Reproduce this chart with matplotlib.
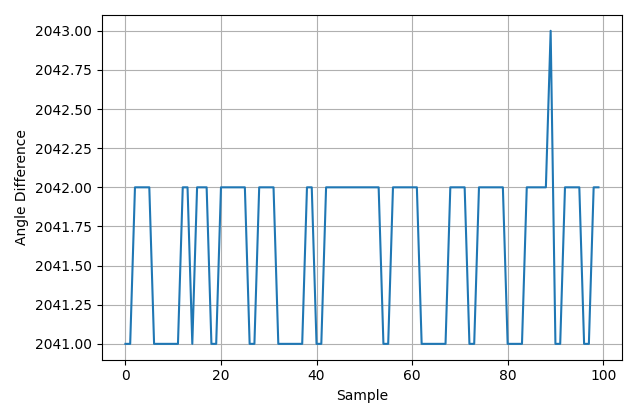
import matplotlib
matplotlib.use("Agg")
import matplotlib.pyplot as plt
import numpy as np

# Angle difference per sample (level, length)
levels = [2041, 2042, 2041, 2042, 2041, 2042, 2041, 2042, 2041, 2042, 2041, 2042,
          2041, 2042, 2041, 2042, 2041, 2042, 2041, 2042, 2041, 2042, 2043, 2041,
          2042, 2041, 2042]
counts = [2, 4, 6, 2, 1, 3, 2, 6, 2, 4, 6, 2,
          2, 12, 2, 6, 6, 4, 2, 6, 4, 5, 1, 2,
          4, 2, 2]

angle_diff = np.repeat(levels, counts)
samples = np.arange(len(angle_diff))

fig, ax = plt.subplots(figsize=(6.4, 4.09), dpi=100)
ax.plot(samples, angle_diff)
ax.set_xlabel("Sample")
ax.set_ylabel("Angle Difference")
ax.grid(True)
fig.subplots_adjust(left=0.159, right=0.972, top=0.963, bottom=0.121)
fig.savefig("out.png")
